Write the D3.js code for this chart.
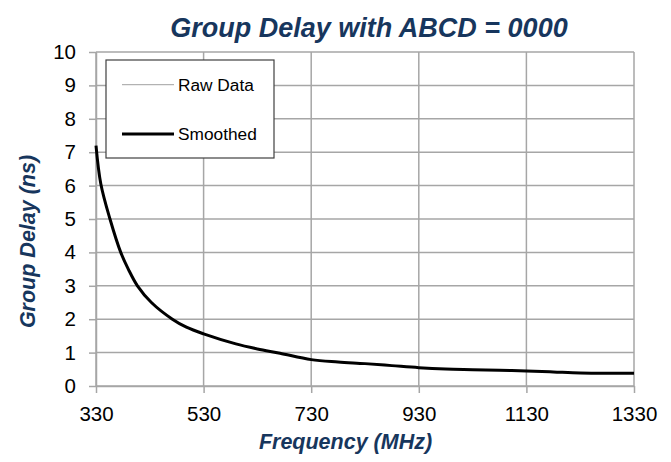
<!DOCTYPE html>
<html>
<head>
<meta charset="utf-8">
<script src="https://cdn.jsdelivr.net/npm/d3@7"></script>
<style>
  html, body { margin: 0; padding: 0; background: #fff; }
  svg { display: block; }
  text { font-family: "Liberation Sans", Arial, sans-serif; }
</style>
</head>
<body>
<svg id="chart" width="671" height="462"></svg>
<script>
// ---- data ----
const freqMHz = [330, 339, 356, 376, 390, 407, 433, 472, 498, 530, 590, 630, 672, 730, 780, 830, 880, 930, 980, 1030, 1080, 1130, 1180, 1230, 1280, 1330];
const smoothedNs = [7.2, 6.05, 5.0, 4.0, 3.5, 3.0, 2.5, 2.0, 1.76, 1.56, 1.26, 1.11, 0.98, 0.79, 0.72, 0.67, 0.61, 0.55, 0.51, 0.49, 0.47, 0.45, 0.42, 0.39, 0.38, 0.38];
const rawNs = [7.2, 6.05, 5.0, 4.0, 3.5, 3.0, 2.5, 2.0, 1.76, 1.56, 1.26, 1.11, 0.98, 0.79, 0.72, 0.67, 0.61, 0.55, 0.51, 0.49, 0.47, 0.45, 0.42, 0.39, 0.38, 0.38];
const xTicks = [330, 530, 730, 930, 1130, 1330];
const yTicks = [0, 1, 2, 3, 4, 5, 6, 7, 8, 9, 10];
const seriesNames = ["Raw Data", "Smoothed"];
const titleText = "Group Delay with ABCD = 0000";
const xTitle = "Frequency (MHz)";
const yTitle = "Group Delay (ns)";

const svg = d3.select("#chart");
const plot = { left: 96, right: 634, top: 52, bottom: 386 };
const navy = "#17365d";
const grid = "#a6a6a6";

const x = d3.scaleLinear().domain([330, 1330]).range([plot.left, plot.right]);
const y = d3.scaleLinear().domain([0, 10]).range([plot.bottom, plot.top]);

// gridlines
svg.append("g").selectAll("line").data(yTicks).join("line")
  .attr("x1", plot.left).attr("x2", plot.right)
  .attr("y1", d => y(d)).attr("y2", d => y(d))
  .attr("stroke", grid).attr("stroke-width", 1.5);
svg.append("g").selectAll("line").data(xTicks).join("line")
  .attr("x1", d => x(d)).attr("x2", d => x(d))
  .attr("y1", plot.top).attr("y2", plot.bottom)
  .attr("stroke", grid).attr("stroke-width", 1.5);

// axes
const yAxis = svg.append("g").attr("transform", `translate(${plot.left},0)`)
  .call(d3.axisLeft(y).tickValues(yTicks).tickSizeInner(7).tickSizeOuter(0).tickPadding(13).tickFormat(d3.format("d")));
const xAxis = svg.append("g").attr("transform", `translate(0,${plot.bottom})`)
  .call(d3.axisBottom(x).tickValues(xTicks).tickSizeInner(7).tickSizeOuter(0).tickPadding(13).tickFormat(d3.format("d")));
[yAxis, xAxis].forEach(a => {
  a.select(".domain").attr("stroke", grid).attr("stroke-width", 1.5);
  a.selectAll(".tick line").attr("stroke", grid).attr("stroke-width", 1.5);
  a.selectAll(".tick text").attr("fill", "#000").style("font-size", "20.5px")
    .style("font-family", '"Liberation Sans", Arial, sans-serif');
});

// series
const line = d3.line().x(d => x(d[0])).y(d => y(d[1])).curve(d3.curveCatmullRom.alpha(0.5));
svg.append("path").datum(d3.zip(freqMHz, rawNs))
  .attr("d", line).attr("fill", "none").attr("stroke", "#a0a0a0").attr("stroke-width", 1);
svg.append("path").datum(d3.zip(freqMHz, smoothedNs))
  .attr("d", line).attr("fill", "none").attr("stroke", "#000").attr("stroke-width", 3)
  .attr("stroke-linejoin", "round");

// legend
const lg = svg.append("g");
lg.append("rect").attr("x", 106).attr("y", 60).attr("width", 168).attr("height", 98)
  .attr("fill", "#fff").attr("stroke", "#404040").attr("stroke-width", 1.2);
const legendItems = [
  { name: seriesNames[0], y: 84.7, color: "#a0a0a0", w: 1 },
  { name: seriesNames[1], y: 134, color: "#000", w: 3 }
];
legendItems.forEach(it => {
  lg.append("line").attr("x1", 122).attr("x2", 174).attr("y1", it.y).attr("y2", it.y)
    .attr("stroke", it.color).attr("stroke-width", it.w);
  lg.append("text").attr("x", 178).attr("y", it.y).attr("dy", "0.35em")
    .style("font-size", "17.3px").attr("fill", "#000").text(it.name);
});

// titles
svg.append("text").attr("x", 369).attr("y", 36.5).attr("text-anchor", "middle")
  .style("font-size", "27px").style("font-weight", "bold").style("font-style", "italic")
  .attr("fill", navy).text(titleText);
svg.append("text").attr("x", 345.5).attr("y", 449).attr("text-anchor", "middle")
  .style("font-size", "21.5px").style("font-weight", "bold").style("font-style", "italic")
  .attr("fill", navy).text(xTitle);
svg.append("text").attr("transform", "translate(35,241.5) rotate(-90)").attr("text-anchor", "middle")
  .style("font-size", "21.5px").style("font-weight", "bold").style("font-style", "italic")
  .attr("fill", navy).text(yTitle);
</script>
</body>
</html>
